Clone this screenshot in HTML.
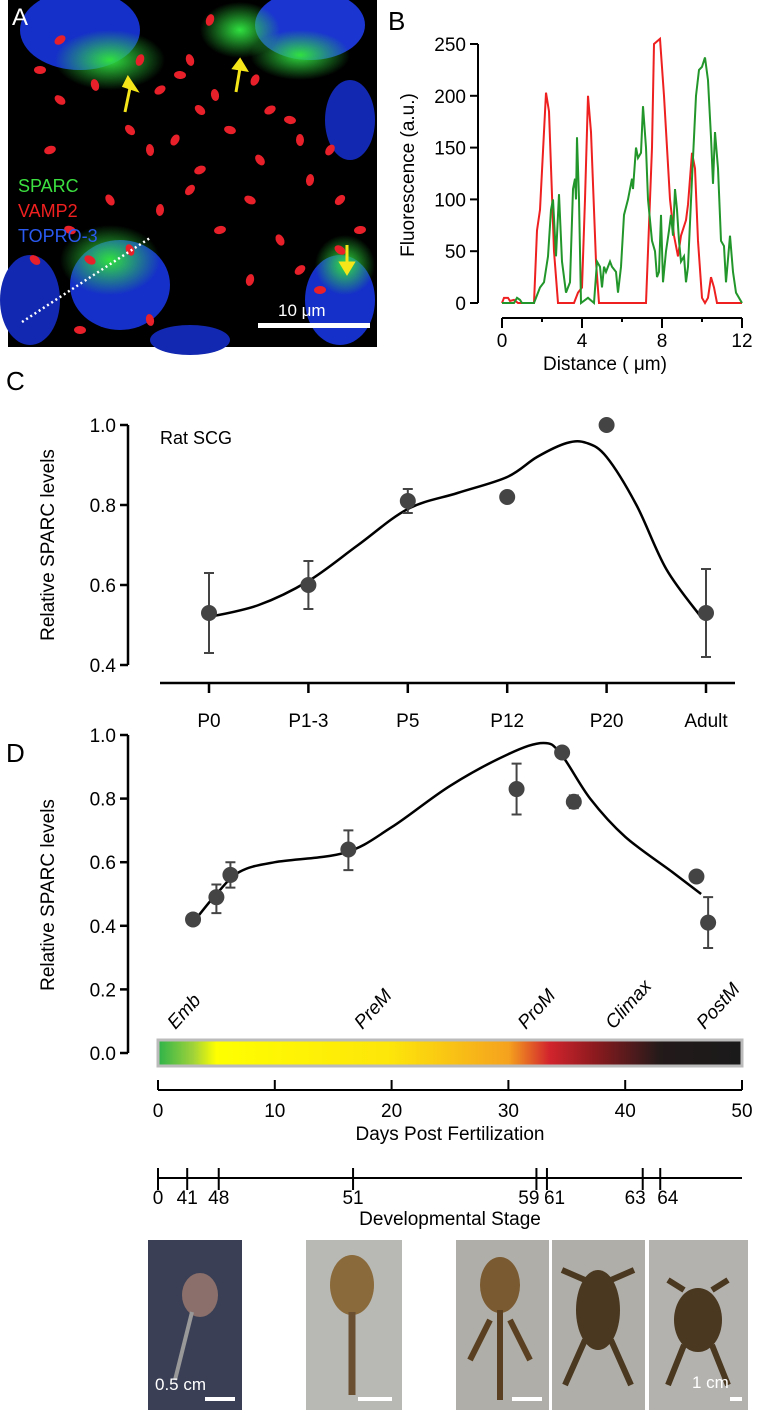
<!DOCTYPE html>
<html><head><meta charset="utf-8"><style>
body{margin:0;background:#fff;}
svg{display:block;font-family:"Liberation Sans",sans-serif;}
</style></head><body>
<svg id="fig" width="759" height="1414" viewBox="0 0 759 1414">
<defs>
<linearGradient id="cbar" x1="0" x2="1">
<stop offset="0" stop-color="#2db34a"/><stop offset="0.06" stop-color="#9fd23a"/><stop offset="0.1" stop-color="#ffff00"/>
<stop offset="0.4" stop-color="#fde50a"/><stop offset="0.6" stop-color="#f5a21e"/><stop offset="0.67" stop-color="#d2242d"/>
<stop offset="0.75" stop-color="#8a1a1e"/><stop offset="0.86" stop-color="#231a1a"/><stop offset="1" stop-color="#1a1a1a"/>
</linearGradient>
<radialGradient id="gb"><stop offset="0" stop-color="#30e040"/><stop offset="1" stop-color="#30e040" stop-opacity="0"/></radialGradient>
</defs>
<g>
<rect x="8" y="0" width="369" height="347" fill="#000"/>
<ellipse cx="80" cy="30" rx="60" ry="40" fill="#1530c8"/>
<ellipse cx="310" cy="25" rx="55" ry="35" fill="#1a35d0"/>
<ellipse cx="350" cy="120" rx="25" ry="40" fill="#1228b0"/>
<ellipse cx="120" cy="285" rx="50" ry="45" fill="#1530c8"/>
<ellipse cx="30" cy="300" rx="30" ry="45" fill="#1228b0"/>
<ellipse cx="340" cy="300" rx="35" ry="45" fill="#1530c8"/>
<ellipse cx="190" cy="340" rx="40" ry="15" fill="#1228b0"/>
<ellipse cx="110" cy="60" rx="55" ry="30" fill="url(#gb)"/>
<ellipse cx="240" cy="30" rx="40" ry="28" fill="url(#gb)"/>
<ellipse cx="300" cy="55" rx="50" ry="25" fill="url(#gb)"/>
<ellipse cx="110" cy="260" rx="50" ry="35" fill="url(#gb)"/>
<ellipse cx="345" cy="265" rx="30" ry="30" fill="url(#gb)"/>
<g id="reddots" fill="#e8202a"></g>
<line x1="22" y1="322" x2="150" y2="238" stroke="#fff" stroke-width="2.5" stroke-dasharray="2,3"/>
<g stroke="#f5e61a" stroke-width="3" fill="#f5e61a">
<line x1="125" y1="112" x2="130" y2="88"/><polygon points="124,86 136,90 128,78"/>
<line x1="236" y1="92" x2="240" y2="68"/><polygon points="234,68 246,70 240,60"/>
<line x1="347" y1="245" x2="347" y2="265"/><polygon points="341,263 353,263 347,273"/>
</g>
<text x="12" y="25" font-size="24" fill="#fff">A</text>
<text x="18" y="192" font-size="18" fill="#3ce040">SPARC</text>
<text x="18" y="217" font-size="18" fill="#f02020">VAMP2</text>
<text x="18" y="242" font-size="18" fill="#2a5af0">TOPRO-3</text>
<text x="278" y="316" font-size="17" fill="#fff">10 μm</text>
<rect x="258" y="323" width="112" height="5" fill="#fff"/>
</g>
<g id="pb">
<text x="388" y="30" font-size="26">B</text>
</g>
<g id="pc">
<text x="6" y="390" font-size="26">C</text>
<text x="160" y="444" font-size="18">Rat SCG</text>
<text transform="translate(54,545) rotate(-90)" text-anchor="middle" font-size="19">Relative SPARC levels</text>
</g>
<g id="pd">
<text x="6" y="762" font-size="26">D</text>
<text transform="translate(54,895) rotate(-90)" text-anchor="middle" font-size="19">Relative SPARC levels</text>
<rect x="158" y="1040" width="584" height="26" fill="url(#cbar)" stroke="#bbb" stroke-width="3"/>
<text x="450" y="1140" text-anchor="middle" font-size="19">Days Post Fertilization</text>
<text x="450" y="1225" text-anchor="middle" font-size="19">Developmental Stage</text>
</g>
<g>
<rect x="148" y="1240" width="94" height="170" fill="#3a3f55"/>
<ellipse cx="200" cy="1295" rx="18" ry="22" fill="#8a6f6a"/><path d="M192 1312 L175 1380" stroke="#999" stroke-width="4"/>
<text x="155" y="1390" font-size="17" fill="#fff">0.5 cm</text><rect x="205" y="1397" width="30" height="4" fill="#fff"/>
<rect x="306" y="1240" width="96" height="170" fill="#b8b8b4"/>
<ellipse cx="352" cy="1285" rx="22" ry="30" fill="#8a6a3a"/><path d="M352 1312 L352 1395" stroke="#6a5030" stroke-width="7"/>
<rect x="358" y="1397" width="34" height="4" fill="#fff"/>
<rect x="456" y="1240" width="93" height="170" fill="#b0aea8"/>
<ellipse cx="500" cy="1285" rx="20" ry="28" fill="#7a5a30"/><path d="M500 1310 L500 1400 M490 1320 L470 1360 M510 1320 L530 1360" stroke="#5a4020" stroke-width="6"/>
<rect x="512" y="1397" width="30" height="4" fill="#fff"/>
<rect x="552" y="1240" width="93" height="170" fill="#b0aea8"/>
<ellipse cx="598" cy="1310" rx="22" ry="40" fill="#4a3820"/><path d="M585 1280 L562 1270 M611 1280 L634 1270 M585 1340 L565 1385 M611 1340 L631 1385" stroke="#4a3820" stroke-width="6"/>
<rect x="649" y="1240" width="99" height="170" fill="#b4b2ae"/>
<ellipse cx="698" cy="1320" rx="24" ry="32" fill="#4a3820"/><path d="M684 1290 L668 1280 M712 1290 L728 1280 M684 1345 L668 1385 M712 1345 L728 1385" stroke="#4a3820" stroke-width="6"/>
<text x="692" y="1388" font-size="17" fill="#fff">1 cm</text><rect x="730" y="1397" width="12" height="4" fill="#fff"/>
</g>
</svg>
<script>
const NS="http://www.w3.org/2000/svg";
const redX=[0,0.1,0.3,0.4,0.6,0.8,1.6,1.75,1.9,2.2,2.35,2.6,2.8,3.6,3.8,4.0,4.15,4.3,4.45,4.7,4.85,7.2,7.5,7.6,7.9,8.1,8.4,8.6,8.8,8.95,9.2,9.3,9.5,9.65,9.8,10.0,10.15,10.3,10.45,10.6,10.75,12];
const redY=[0,5,5,2,3,0,0,70,90,203,185,50,0,0,10,15,100,200,165,40,0,0,150,250,255,200,100,65,45,65,80,95,145,130,60,5,0,5,25,15,0,0];
const greenX=[0,0.6,0.75,0.9,1.0,1.6,1.9,2.1,2.3,2.45,2.55,2.7,2.85,3.0,3.2,3.4,3.55,3.65,3.7,3.75,3.85,3.95,4.3,4.6,4.75,4.9,5.0,5.1,5.2,5.4,5.5,5.7,5.8,5.95,6.1,6.3,6.5,6.55,6.7,6.8,6.95,7.05,7.2,7.3,7.5,7.65,7.75,7.85,7.95,8.05,8.2,8.35,8.45,8.55,8.65,8.75,8.85,8.95,9.1,9.2,9.3,9.5,9.7,9.85,10.0,10.15,10.3,10.45,10.55,10.65,10.8,10.95,11.1,11.2,11.4,11.55,11.7,12];
const greenY=[0,0,5,3,0,0,15,20,45,90,100,45,105,40,10,20,110,120,100,160,100,0,5,0,40,35,15,35,30,40,35,30,10,35,85,100,120,110,150,140,145,190,150,100,60,50,25,30,85,20,50,70,85,65,110,90,60,40,45,20,35,120,200,225,228,237,215,160,115,165,130,60,55,20,65,30,10,0];
const bYTicks=[0,50,100,150,200,250];
const bXTicks=[0,4,8,12];
const cCats=["P0","P1-3","P5","P12","P20","Adult"];
const cVals=[0.53,0.60,0.81,0.82,1.0,0.53];
const cErrHi=[0.63,0.66,0.84,null,null,0.64];
const cErrLo=[0.43,0.54,0.78,null,null,0.42];
const cFitX=[0,0.5,1,1.5,2,2.5,3,3.3,3.6,3.8,4,4.3,4.6,4.95];
const cFitY=[0.52,0.55,0.61,0.70,0.79,0.83,0.87,0.92,0.955,0.955,0.92,0.80,0.64,0.52];
const cTicks=[0.4,0.6,0.8,1.0];
const dDays=[3.0,5.0,6.2,16.3,30.7,34.6,35.6,46.1,47.1];
const dVals=[0.42,0.49,0.56,0.64,0.83,0.945,0.79,0.555,0.41];
const dErrHi=[0.435,0.53,0.60,0.70,0.91,null,0.81,null,0.49];
const dErrLo=[0.405,0.44,0.52,0.575,0.75,null,0.77,null,0.33];
const dFitX=[3,5,7,10,16,20,25,30,33,34.5,37,40,44,46.5];
const dFitY=[0.41,0.50,0.57,0.60,0.63,0.71,0.84,0.94,0.975,0.94,0.80,0.68,0.57,0.50];
const dTicks=[0,0.2,0.4,0.6,0.8,1.0];
const dayTicks=[0,10,20,30,40,50];
const stageVals=[0,41,48,51,59,61,63,64];
const stageDays=[0,2.5,5.2,16.7,32.4,33.3,41.5,43];
const stageAnchor=["middle","middle","middle","middle","end","start","end","start"];
const phaseNames=["Emb","PreM","ProM","Climax","PostM"];
const phaseDays=[1.5,17.5,31.5,39,46.8];

function el(t,a,p){const e=document.createElementNS(NS,t);for(const k in a)e.setAttribute(k,a[k]);p.appendChild(e);return e;}
function txt(s,a,p){const e=el("text",a,p);e.textContent=s;return e;}
function smooth(pts){let d="M"+pts[0][0]+","+pts[0][1];for(let i=0;i<pts.length-1;i++){const p0=pts[Math.max(0,i-1)],p1=pts[i],p2=pts[i+1],p3=pts[Math.min(pts.length-1,i+2)];
d+=` C${p1[0]+(p2[0]-p0[0])/6},${p1[1]+(p2[1]-p0[1])/6} ${p2[0]-(p3[0]-p1[0])/6},${p2[1]-(p3[1]-p1[1])/6} ${p2[0]},${p2[1]}`;}return d;}

const rd=document.getElementById("reddots");
const dotsX=[40,60,95,140,160,180,200,215,255,270,290,130,150,175,200,230,260,300,330,50,70,110,160,190,220,250,280,310,340,360,90,130,250,300,320,340,190,210,60,80,35,150];
const dotsY=[70,100,85,60,90,75,110,95,80,110,120,130,150,140,170,130,160,140,150,150,230,200,210,190,230,200,240,180,200,230,260,250,280,270,290,250,60,20,40,330,260,320];
dotsX.forEach((x,i)=>{const e=el("ellipse",{cx:x,cy:dotsY[i],rx:6,ry:4,transform:`rotate(${(i*37)%180} ${x} ${dotsY[i]})`},rd);

});

const pb=document.getElementById("pb");
const bx=v=>502+v*20, by=v=>303-v*1.036;
el("line",{x1:478,y1:by(0),x2:478,y2:by(250),stroke:"#000","stroke-width":2},pb);
bYTicks.forEach(t=>{el("line",{x1:470,y1:by(t),x2:478,y2:by(t),stroke:"#000","stroke-width":2},pb);
const e=txt(t,{x:466,y:by(t)+7,"text-anchor":"end","font-size":19},pb);

});
el("line",{x1:bx(0),y1:318,x2:bx(12),y2:318,stroke:"#000","stroke-width":2},pb);
[0,2,4,6,8,10,12].forEach(t=>el("line",{x1:bx(t),y1:318,x2:bx(t),y2:t%4?322:328,stroke:"#000","stroke-width":2},pb));
bXTicks.forEach(t=>{const e=txt(t,{x:bx(t),y:347,"text-anchor":"middle","font-size":19},pb);

});
txt("Distance ( μm)",{x:605,y:370,"text-anchor":"middle","font-size":19,},pb);
txt("Fluorescence (a.u.)",{transform:"translate(414,175) rotate(-90)","text-anchor":"middle","font-size":19,},pb);
const lr=el("polyline",{points:redX.map((x,i)=>bx(x)+","+by(redY[i])).join(" "),fill:"none",stroke:"#ee2020","stroke-width":2},pb);


const lg=el("polyline",{points:greenX.map((x,i)=>bx(x)+","+by(greenY[i])).join(" "),fill:"none",stroke:"#22962a","stroke-width":2},pb);



const pc=document.getElementById("pc");
const cx=i=>209+i*99.4, cy=v=>425+(1-v)*400;
el("line",{x1:128,y1:cy(1),x2:128,y2:cy(0.4),stroke:"#000","stroke-width":2.5},pc);
cTicks.forEach(t=>{el("line",{x1:120,y1:cy(t),x2:128,y2:cy(t),stroke:"#000","stroke-width":2.5},pc);
const e=txt(t.toFixed(1),{x:116,y:cy(t)+7,"text-anchor":"end","font-size":19},pc);

});
el("line",{x1:160,y1:683,x2:735,y2:683,stroke:"#000","stroke-width":2.5},pc);
cCats.forEach((c,i)=>{el("line",{x1:cx(i),y1:683,x2:cx(i),y2:693,stroke:"#000","stroke-width":2.5},pc);
const e=txt(c,{x:cx(i),y:727,"text-anchor":"middle","font-size":19},pc);

});
const fc=el("path",{d:smooth(cFitX.map((x,i)=>[cx(x),cy(cFitY[i])])),fill:"none",stroke:"#000","stroke-width":2.5},pc);


cVals.forEach((v,i)=>{if(cErrHi[i]!==null){const g=el("path",{d:`M${cx(i)},${cy(cErrHi[i])}V${cy(cErrLo[i])}M${cx(i)-5},${cy(cErrHi[i])}h10M${cx(i)-5},${cy(cErrLo[i])}h10`,stroke:"#444","stroke-width":2,fill:"none"},pc);

}
const p=el("circle",{cx:cx(i),cy:cy(v),r:8,fill:"#444"},pc);

});

const pd=document.getElementById("pd");
const dx=d=>158+d*11.68, dy=v=>1053-v*318;
el("line",{x1:128,y1:dy(1),x2:128,y2:dy(0),stroke:"#000","stroke-width":2.5},pd);
dTicks.forEach(t=>{el("line",{x1:120,y1:dy(t),x2:128,y2:dy(t),stroke:"#000","stroke-width":2.5},pd);
const e=txt(t.toFixed(1),{x:116,y:dy(t)+7,"text-anchor":"end","font-size":19},pd);

});
el("line",{x1:dx(0),y1:1090,x2:dx(50),y2:1090,stroke:"#000","stroke-width":2},pd);
dayTicks.forEach(t=>{el("line",{x1:dx(t),y1:1090,x2:dx(t),y2:1080,stroke:"#000","stroke-width":2},pd);
const e=txt(t,{x:dx(t),y:1117,"text-anchor":"middle","font-size":19},pd);

});
el("line",{x1:dx(0),y1:1178,x2:dx(50),y2:1178,stroke:"#000","stroke-width":2},pd);
stageVals.forEach((s,i)=>{const x=dx(stageDays[i]);el("line",{x1:x,y1:1168,x2:x,y2:1190,stroke:"#000","stroke-width":2},pd);
const off=stageAnchor[i]==="end"?3:stageAnchor[i]==="start"?-3:0;
const e=txt(s,{x:x+off,y:1204,"text-anchor":stageAnchor[i],"font-size":19},pd);

});
phaseNames.forEach((n,i)=>{const x=dx(phaseDays[i]);const e=txt(n,{transform:`translate(${x},1030) rotate(-48)`,"text-anchor":"start","font-size":19,"font-style":"italic"},pd);

});
const fd=el("path",{d:smooth(dFitX.map((x,i)=>[dx(x),dy(dFitY[i])])),fill:"none",stroke:"#000","stroke-width":2.5},pd);


dVals.forEach((v,i)=>{const x=dx(dDays[i]);if(dErrHi[i]!==null){const g=el("path",{d:`M${x},${dy(dErrHi[i])}V${dy(dErrLo[i])}M${x-5},${dy(dErrHi[i])}h10M${x-5},${dy(dErrLo[i])}h10`,stroke:"#444","stroke-width":2,fill:"none"},pd);

}
const p=el("circle",{cx:x,cy:dy(v),r:8,fill:"#444"},pd);

});
</script>
</body></html>
